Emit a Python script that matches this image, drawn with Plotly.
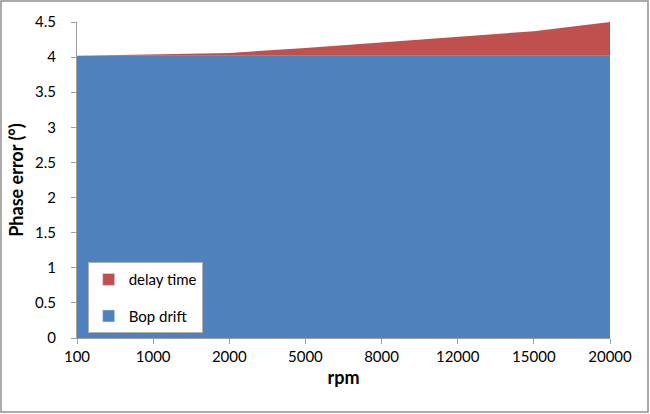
import plotly.graph_objects as go

rpm = ["100", "1000", "2000", "5000", "8000", "12000", "15000", "20000"]
bop_drift = [4.02, 4.02, 4.02, 4.02, 4.02, 4.02, 4.02, 4.02]
delay_time = [0.0, 0.02, 0.04, 0.11, 0.19, 0.28, 0.35, 0.48]

BLUE = "#4F81BD"
RED = "#C0504D"
AXIS = "#A0A0A0"
FONT = "Lato, 'Open Sans', Arial, sans-serif"

fig = go.Figure()
fig.add_trace(go.Scatter(
    x=rpm, y=bop_drift, name="Bop drift", mode="lines",
    line=dict(width=0, color=BLUE), fillcolor=BLUE,
    stackgroup="one", showlegend=False,
))
fig.add_trace(go.Scatter(
    x=rpm, y=delay_time, name="delay time", mode="lines",
    line=dict(width=0, color=RED), fillcolor=RED,
    stackgroup="one", showlegend=False,
))
# square legend swatches, like the spreadsheet legend
fig.add_trace(go.Bar(x=[rpm[0]], y=[0], name="delay time", marker_color=RED,
                     legendgroup="a", hoverinfo="skip"))
fig.add_trace(go.Bar(x=[rpm[0]], y=[0], name="Bop drift", marker_color=BLUE,
                     legendgroup="b", hoverinfo="skip"))

# plot area in pixels: x 77..610, y 22..338
L, R, T, B = 77, 40, 22, 76
pw, ph = 650 - L - R, 414 - T - B

fig.update_layout(
    width=650, height=414,
    margin=dict(l=L, r=R, t=T, b=B),
    paper_bgcolor="white", plot_bgcolor="white",
    font=dict(family=FONT, size=15, color="black"),
    showlegend=True,
    legend=dict(
        x=0.02, y=0.24, xanchor="left", yanchor="top",
        traceorder="grouped", tracegroupgap=14, bgcolor="white",
        bordercolor="#B0B0B0", borderwidth=1, itemwidth=30,
        font=dict(size=15),
    ),
    xaxis=dict(
        type="category", range=[0, 7],
        showgrid=False, showline=True, linecolor=AXIS,
        ticks="outside", ticklen=5, tickcolor=AXIS,
        tickfont=dict(size=15),
        title=dict(text="<b>rpm</b>", font=dict(size=18), standoff=7),
    ),
    yaxis=dict(
        range=[0, 4.5], dtick=0.5,
        showgrid=True, gridcolor="#C8C8C8",
        showline=True, linecolor=AXIS,
        ticks="outside", ticklen=5, tickcolor=AXIS, ticklabelstandoff=12,
        tickfont=dict(size=15), zeroline=False,
        title=dict(text="<b>Phase error (°)</b>", font=dict(size=18), standoff=6),
    ),
    shapes=[dict(
        type="rect", xref="paper", yref="paper",
        x0=(1 - L) / pw, x1=(648 - L) / pw,
        y0=(T + ph - 412) / ph, y1=(T + ph - 1) / ph,
        line=dict(color="#909090", width=1.5), layer="below",
    )],
)

fig.write_html("out.html", config={"displayModeBar": False},
               post_script="document.body.style.margin='0';")
